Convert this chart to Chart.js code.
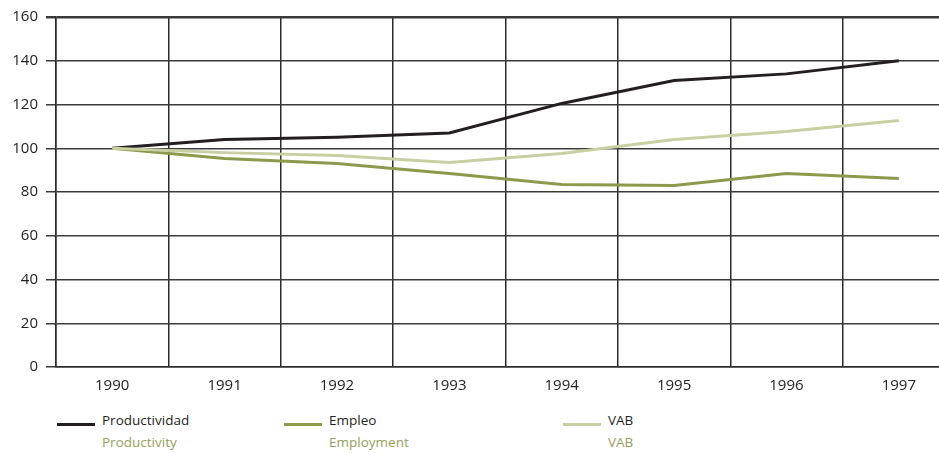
<!DOCTYPE html>
<html>
<head>
<meta charset="utf-8">
<script src="https://cdn.jsdelivr.net/npm/chart.js@4/dist/chart.umd.min.js"></script>
<style>
  html, body { margin: 0; padding: 0; background: #fff; overflow: hidden; }
  #wrap { position: relative; width: 939px; height: 453px; overflow: hidden; }
  #c { position: absolute; left: 0; top: 0; }
  .leg { position: absolute; font-family: "Open Sans", sans-serif; font-size: 13.5px; line-height: 22px; }
  .leg .sw { position: absolute; top: 14px; height: 3px; width: 38px; }
  .leg .t { position: absolute; left: 45px; top: 0; white-space: nowrap; }
  .leg .es { color: #231f20; }
  .leg .en { color: #95a05a; }
</style>
</head>
<body>
<div id="wrap">
  <canvas id="c" width="955" height="400"></canvas>
  <div class="leg" style="left:57px; top:409px;">
    <div class="sw" style="background:#231f20"></div>
    <div class="t"><div class="es">Productividad</div><div class="en">Productivity</div></div>
  </div>
  <div class="leg" style="left:284px; top:409px;">
    <div class="sw" style="background:#8c9a4c"></div>
    <div class="t"><div class="es">Empleo</div><div class="en">Employment</div></div>
  </div>
  <div class="leg" style="left:563px; top:409px;">
    <div class="sw" style="background:#c9cfa2"></div>
    <div class="t"><div class="es">VAB</div><div class="en">VAB</div></div>
  </div>
</div>
<script>
var years = ['1990', '1991', '1992', '1993', '1994', '1995', '1996', '1997'];
var productividad = [100, 104, 105, 107, 120.5, 131, 134, 140];
var empleo = [100, 95.3, 93, 88.5, 83.4, 83, 88.5, 86.2];
var vab = [100, 98, 96.7, 93.5, 97.6, 104, 107.7, 112.7];

var ctx = document.getElementById('c').getContext('2d');
var chart = new Chart(ctx, {
    type: 'line',
    data: {
        labels: years,
        datasets: [
            { label: 'VAB', data: vab, borderColor: '#c9cfa2', borderWidth: 3 },
            { label: 'Empleo', data: empleo, borderColor: '#8c9a4c', borderWidth: 3 },
            { label: 'Productividad', data: productividad, borderColor: '#231f20', borderWidth: 3 }
        ]
    },
    options: {
        responsive: false,
        animation: false,
        elements: {
            point: { radius: 0 },
            line: { tension: 0, borderCapStyle: 'butt' }
        },
        layout: { padding: { top: 17, left: 0, right: 0, bottom: 0 } },
        plugins: {
            legend: { display: false },
            tooltip: { enabled: false }
        },
        scales: {
            x: {
                offset: true,
                grid: { offset: true, color: '#2b2b2b', lineWidth: 1.5, drawTicks: false },
                border: { display: true, color: '#2b2b2b', width: 1.5 },
                ticks: { color: '#222', font: { family: 'Open Sans', size: 15 }, padding: 10 },
                afterFit: function (s) { s.height = 33; }
            },
            y: {
                min: 0,
                max: 160,
                ticks: { stepSize: 20, color: '#222', font: { family: 'Open Sans', size: 15 }, padding: 8 },
                grid: {
                    color: '#3a3a3a',
                    lineWidth: function (c) { return c.tick && c.tick.value === 160 ? 2.5 : 1.5; },
                    tickLength: 10
                },
                border: { display: true, color: '#2b2b2b', width: 1.5 },
                afterFit: function (s) { s.width = 56; }
            }
        }
    }
});
</script>
</body>
</html>
